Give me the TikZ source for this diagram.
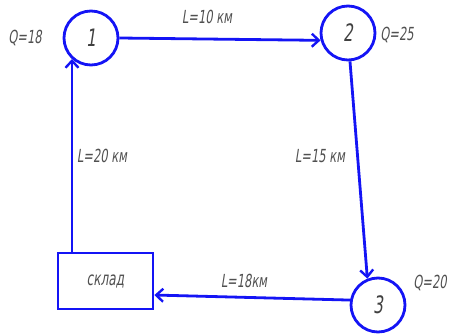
\documentclass[tikz,border=0pt]{standalone}
\usepackage{fontspec}
\newfontfamily\gost[FakeStretch=0.64,FakeSlant=0.15]{DejaVu Sans}
\usetikzlibrary{arrows.meta}
\definecolor{edgeblue}{RGB}{20,20,245}
\definecolor{txt}{RGB}{80,80,80}
\begin{document}
\begin{tikzpicture}[x=1pt,y=-1pt,
  vertex/.style={circle,draw=edgeblue,line width=2.8pt,minimum size=54pt,inner sep=0pt,font=\gost\fontsize{24}{24}\selectfont,text=black!75},
  store/.style={rectangle,draw=edgeblue,line width=2.8pt,minimum width=95pt,minimum height=56pt,inner sep=0pt,font=\gost\fontsize{19}{19}\selectfont,text=txt},
  conn/.style={draw=edgeblue,line width=2.8pt,-{Straight Barb[length=7pt,width=13pt,line width=2.4pt]}},
  lab/.style={font=\gost\fontsize{18}{18}\selectfont,text=txt,inner sep=1pt}]
\useasboundingbox (0,0) rectangle (449,334);
\node[vertex] (n1) at (91,38) {1};
\node[vertex] (n2) at (348,33) {2};
\node[vertex] (n3) at (378,305) {3};
\node[store] (s) at (105.5,281) {склад};
\coordinate (sTop) at (72,252);
\coordinate (n1Bot) at (72,59);
\draw[conn] (n1.east) -- (n2.195);
\draw[conn] (n2.274) -- (n3.112);
\draw[conn] (n3.170) -- (s.-16);
\draw[conn] (sTop) -- (n1Bot);
\node[lab] (q1) at (25,38) {Q=18};
\node[lab] (q2) at (397,35) {Q=25};
\node[lab] (q3) at (430,283) {Q=20};
\node[lab] (l12) at (207,17) {L=10 км};
\node[lab] (l23) at (320,156) {L=15 км};
\node[lab] (l3s) at (244,281) {L=18км};
\node[lab] (ls1) at (102,156) {L=20 км};
\end{tikzpicture}
\end{document}
